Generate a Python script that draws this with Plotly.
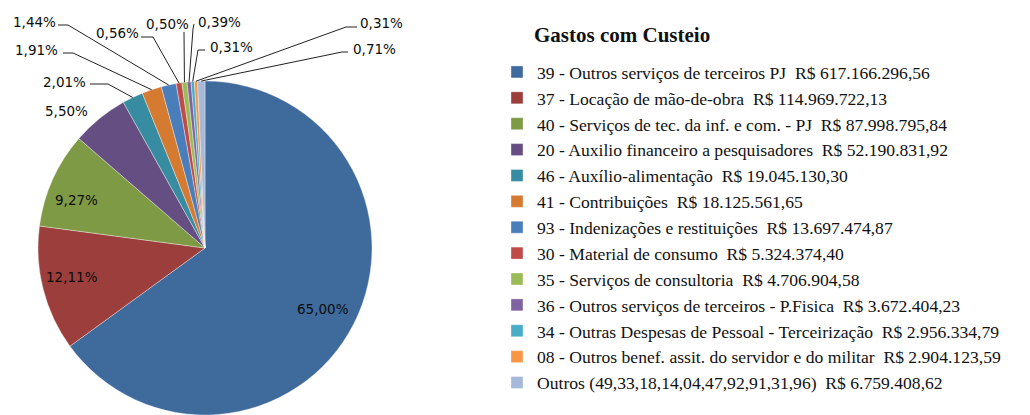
import math
import plotly.graph_objects as go

W, H = 1030, 415

# Despesas de custeio por natureza (R$)
naturezas = [
    "39 - Outros serviços de terceiros PJ",
    "37 - Locação de mão-de-obra",
    "40 - Serviços de tec. da inf. e com. - PJ",
    "20 - Auxilio financeiro a pesquisadores",
    "46 - Auxílio-alimentação",
    "41 - Contribuições",
    "93 - Indenizações e restituições",
    "30 - Material de consumo",
    "35 - Serviços de consultoria",
    "36 - Outros serviços de terceiros - P.Fisica",
    "34 - Outras Despesas de Pessoal - Terceirização",
    "08 - Outros benef. assit. do servidor e do militar",
    "Outros (49,33,18,14,04,47,92,91,31,96)",
]
valores = [
    617166296.56, 114969722.13, 87998795.84, 52190831.92, 19045130.30,
    18125561.65, 13697474.87, 5324374.40, 4706904.58, 3672404.23,
    2956334.79, 2904123.59, 6759408.62,
]
cores = [
    "#3F6A9C", "#9C3F3C", "#7F9A44", "#654E82", "#378CA2", "#D57A31",
    "#4A7EBB", "#BE4B48", "#9BBB59", "#7F63A1", "#4BACC6", "#F79646",
    "#A7B9D9",
]


def brl(v):
    s = f"{v:,.2f}"
    return s.replace(",", "X").replace(".", ",").replace("X", ".")


def pct(v, total):
    return f"{v / total * 100:.2f}".replace(".", ",") + "%"


total = sum(valores)
rotulos = [f"{n}  R$ {brl(v)}" for n, v in zip(naturezas, valores)]

# pie geometry in pixels
CX, CY, R = 205, 248, 167


def px(x):
    return x / W


def py(y):
    return 1 - y / H


fig = go.Figure(
    go.Pie(
        labels=rotulos,
        values=valores,
        sort=False,
        direction="clockwise",
        rotation=0,
        marker=dict(colors=cores, line=dict(color="rgba(255,255,255,0.6)", width=0.6)),
        textinfo="none",
        hoverinfo="label+percent",
        domain=dict(x=[px(CX - R), px(CX + R)], y=[0, py(CY - R)]),
    )
)


def borda(i):
    """Point on the pie rim at the middle angle of slice i."""
    acum = sum(valores[:i]) + valores[i] / 2
    ang = 2 * math.pi * acum / total
    return CX + R * math.sin(ang), CY - R * math.cos(ang)


# label placement: index -> (text centre, connector start, connector elbow)
rotulo_pos = {
    0: ((323, 309), None, None),
    1: ((72, 277), None, None),
    2: ((76, 200), None, None),
    3: ((66, 111), None, None),
    4: ((64, 82), (90, 84), (108, 84)),
    5: ((37, 50), (63, 53), (73, 53)),
    6: ((34, 22), (58, 25), (68, 25)),
    7: ((117, 33), (141, 37), (153, 37)),
    8: ((167, 24), (184, 32), (184, 32)),
    9: ((219, 22), (194, 24), (193, 29)),
    10: ((231, 47), (205, 50), (198, 50)),
    11: ((381, 23), (357, 27), (346, 27)),
    12: ((374, 49), (348, 52), (342, 52)),
}

anotacoes = []
formas = []
for i, ((tx, ty), ini, cot) in rotulo_pos.items():
    anotacoes.append(dict(
        x=px(tx), y=py(ty), xref="paper", yref="paper",
        text=pct(valores[i], total), showarrow=False,
        font=dict(family="DejaVu Sans", size=13.5, color="#0d0d0d"),
        xanchor="center", yanchor="middle",
    ))
    if ini is not None:
        bx, by = borda(i)
        caminho = (f"M {px(ini[0])} {py(ini[1])} L {px(cot[0])} {py(cot[1])} "
                   f"L {px(bx)} {py(by)}")
        formas.append(dict(
            type="path", path=caminho, xref="paper", yref="paper",
            line=dict(color="#222222", width=1),
        ))

anotacoes.append(dict(
    x=px(532), y=py(35), xref="paper", yref="paper",
    text="<b>Gastos com Custeio</b>", showarrow=False,
    font=dict(family="Liberation Serif", size=21, color="#111111"),
    xanchor="left", yanchor="middle",
))

fig.update_layout(
    width=W,
    height=H,
    margin=dict(l=0, r=0, t=0, b=0, autoexpand=False),
    paper_bgcolor="white",
    plot_bgcolor="white",
    showlegend=True,
    legend=dict(
        x=px(497), y=py(54), xanchor="left", yanchor="top",
        font=dict(family="Liberation Serif", size=17.6, color="#111111"),
        bgcolor="rgba(0,0,0,0)",
        traceorder="normal",
    ),
    annotations=anotacoes,
    shapes=formas,
)

fig.write_html("out.html")
